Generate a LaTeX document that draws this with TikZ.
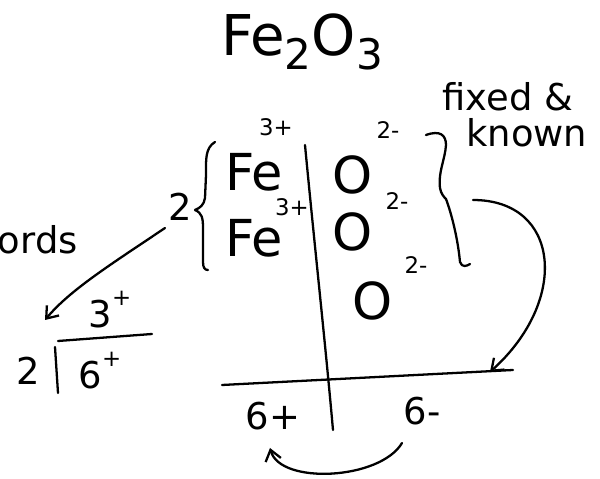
\documentclass[tikz,border=0pt]{standalone}
\usepackage{fontspec}
\setmainfont{DejaVu Sans}
\usetikzlibrary{arrows.meta}
\newcommand{\dn}[1]{\raisebox{-0.25em}{\fontsize{24}{24}\selectfont #1}}
\newcommand{\up}[1]{\raisebox{0.6em}{\fontsize{13}{13}\selectfont #1}}
\begin{document}
\begin{tikzpicture}[x=0.02cm,y=-0.02cm,
  ink/.style={line width=1.3pt,line cap=round,line join=round},
  big/.style={inner sep=0pt,font=\fontsize{29}{29}\selectfont},
  sup/.style={inner sep=0pt,font=\fontsize{13}{13}\selectfont},
  mid/.style={inner sep=0pt,font=\fontsize{21}{21}\selectfont},
  note/.style={inner sep=0pt,font=\fontsize{21}{21}\selectfont},
  arr/.style={ink,-{Straight Barb[length=6pt,width=9pt]}}]
\useasboundingbox (0,0) rectangle (600,479);
% title
\node[big,font=\fontsize{32}{32}\selectfont] (title) at (302,42) {Fe\dn{2}O\dn{3}};
\node[note,anchor=west] (fixed) at (442,97) {fixed \&};
\node[note,anchor=west] (known) at (466,133) {known};
% ions
\node[big] (fe1) at (254,172) {Fe};
\node[sup] (fe1c) at (276,127) {3+};
\node[big] (fe2) at (254,238) {Fe};
\node[sup] (fe2c) at (292,207) {3+};
\node[big] (o1) at (353,175) {O};
\node[sup] (o1c) at (388,130) {2-};
\node[big] (o2) at (353,232) {O};
\node[sup] (o2c) at (397,201) {2-};
\node[big] (o3) at (373,301) {O};
\node[sup] (o3c) at (416,265) {2-};
\node[note] (two) at (180,207) {2};
% braces
\draw[ink] (215,142) .. controls (205,148) and (206,160) .. (206,175)
  -- (205,198) .. controls (204,205) and (200,208) .. (195,210)
  .. controls (202,213) and (203,218) .. (203,228) -- (203,262)
  .. controls (203,268) and (205,270) .. (208,270);
\draw[ink] (426,135) .. controls (440,130) and (446,135) .. (446,145)
  .. controls (445,160) and (438,172) .. (440,188)
  .. controls (441,194) and (444,197) .. (446,199)
  .. controls (452,215) and (458,240) .. (460,262)
  .. controls (462,268) and (467,266) .. (470,264);
% T table lines
\coordinate (vt) at (305,145);
\coordinate (vb) at (333,430);
\draw[ink] (vt) .. controls (315,250) and (325,340) .. (vb);
\coordinate (hl) at (222,385);
\coordinate (hr) at (513,370);
\draw[ink] (hl) -- (hr);
\node[mid] (sum1) at (273,416) {6+};
\node[mid] (sum2) at (422,411) {6-};
% arrows
\coordinate (a1s) at (473,200);
\coordinate (a1e) at (490,372);
\draw[arr] (a1s) .. controls (560,200) and (570,300) .. (a1e);
\coordinate (a2s) at (402,443);
\coordinate (a2e) at (270,448);
\draw[arr] (a2s) .. controls (380,480) and (280,485) .. (a2e);
\coordinate (a3s) at (165,228);
\coordinate (a3e) at (45,320);
\draw[arr] (a3s) .. controls (110,265) and (70,290) .. (a3e);
% division
\node[mid] (q) at (110,310) {3\up{+}};
\draw[ink] (58,341) -- (152,334);
\draw[ink] (55,347) -- (58,393);
\node[mid] (div) at (28,371) {2};
\node[mid] (dvd) at (100,371) {6\up{+}};
\node[note,anchor=east] (words) at (78,240) {words};
\end{tikzpicture}
\end{document}
